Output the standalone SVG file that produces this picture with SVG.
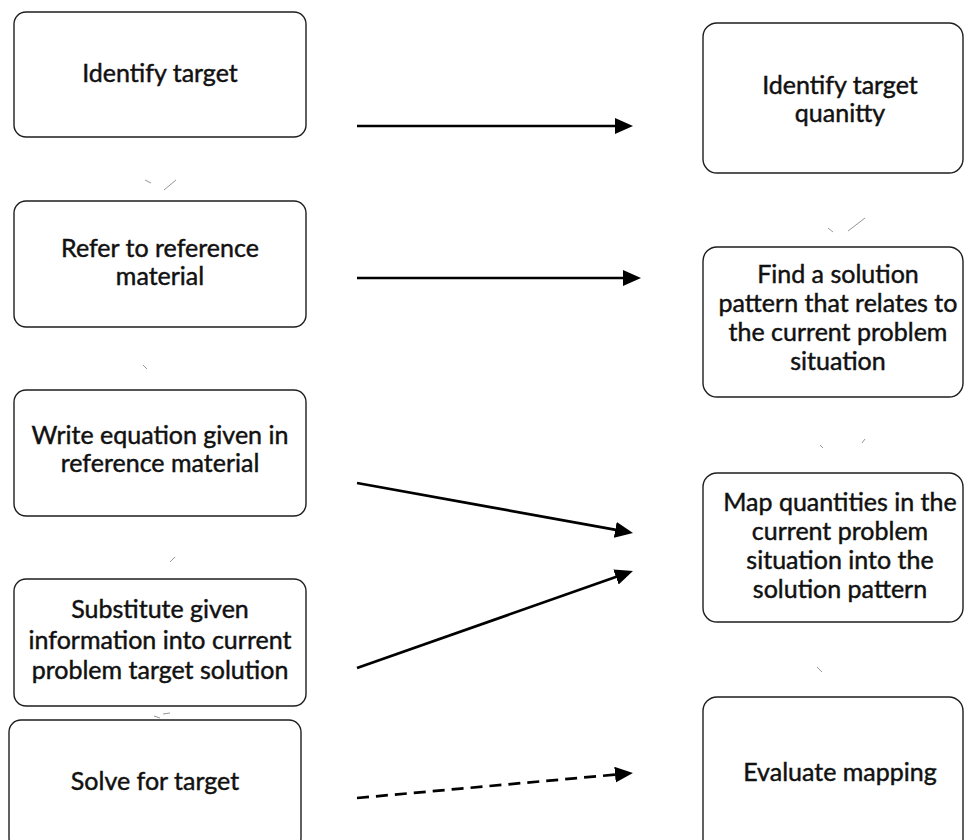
<svg xmlns="http://www.w3.org/2000/svg" width="966" height="840" viewBox="0 0 966 840">
<style>
  .box { fill: #ffffff; stroke: #1e1e1e; stroke-width: 1.4; }
  .lbl { font-family: Lato, "Open Sans", "Liberation Sans", sans-serif; font-size: 25px; fill: #111; stroke: #111; stroke-width: 0.45; text-anchor: middle; }
  .arr { fill: none; stroke: #000; stroke-width: 2.7; marker-end: url(#head); }
  .dash { stroke-dasharray: 12 7; }
  .mark { fill: none; stroke: #8a8a8a; stroke-width: 0.9; }
</style>
<defs>
  <marker id="head" markerUnits="userSpaceOnUse" markerWidth="18" markerHeight="16" refX="5" refY="8" orient="auto" viewBox="0 0 18 16">
    <path d="M0,0 L18,8 L0,16 z" fill="#000"/>
  </marker>
</defs>
<rect width="966" height="840" fill="#ffffff"/>

<g id="connectors">
  <line class="arr" x1="357" y1="126" x2="620" y2="126"/>
  <line class="arr" x1="357" y1="278" x2="628" y2="278"/>
  <line class="arr" x1="357" y1="483" x2="620.2" y2="530.7"/>
  <line class="arr" x1="357" y1="668" x2="620.7" y2="575.3"/>
  <line class="arr dash" x1="357" y1="798" x2="620" y2="774.2"/>
</g>

<g id="marks">
  <path class="mark" d="M145,180 L151,183 M164,190 L176,180"/>
  <path class="mark" d="M143,365 L147,369"/>
  <path class="mark" d="M170,562 L175,557"/>
  <path class="mark" d="M154,716 L160,718 M163,714 L170,713"/>
  <path class="mark" d="M828,228 L833,232 M848,231 L865,218"/>
  <path class="mark" d="M820,445 L823,448 M862,443 L865,439"/>
  <path class="mark" d="M817,667 L822,672"/>
</g>

<g id="n1">
  <rect class="box" x="14" y="12" width="292" height="125" rx="12"/>
  <text class="lbl" x="160" y="82">Identify target</text>
</g>
<g id="n2">
  <rect class="box" x="14" y="201" width="292" height="126" rx="12"/>
  <text class="lbl" x="160" y="257">Refer to reference</text>
  <text class="lbl" x="160" y="285">material</text>
</g>
<g id="n3">
  <rect class="box" x="14" y="390" width="292" height="126" rx="12"/>
  <text class="lbl" x="160" y="444">Write equation given in</text>
  <text class="lbl" x="160" y="472">reference material</text>
</g>
<g id="n4">
  <rect class="box" x="14" y="579" width="292" height="127" rx="12"/>
  <text class="lbl" x="160" y="618">Substitute given</text>
  <text class="lbl" x="160" y="649">information into current</text>
  <text class="lbl" x="160" y="679">problem target solution</text>
</g>
<g id="n5">
  <rect class="box" x="9" y="720" width="292" height="130" rx="12"/>
  <text class="lbl" x="155" y="790">Solve for target</text>
</g>

<g id="m1">
  <rect class="box" x="703" y="23" width="260" height="150" rx="14"/>
  <text class="lbl" x="840" y="94">Identify target</text>
  <text class="lbl" x="840" y="122">quanitty</text>
</g>
<g id="m2">
  <rect class="box" x="703" y="247" width="260" height="150" rx="14"/>
  <text class="lbl" x="838" y="283">Find a solution</text>
  <text class="lbl" x="838" y="312">pattern that relates to</text>
  <text class="lbl" x="838" y="341">the current problem</text>
  <text class="lbl" x="838" y="370">situation</text>
</g>
<g id="m3">
  <rect class="box" x="703" y="473" width="260" height="149" rx="14"/>
  <text class="lbl" x="840" y="511">Map quantities in the</text>
  <text class="lbl" x="840" y="540">current problem</text>
  <text class="lbl" x="840" y="569">situation into the</text>
  <text class="lbl" x="840" y="598">solution pattern</text>
</g>
<g id="m4">
  <rect class="box" x="703" y="697" width="260" height="160" rx="14"/>
  <text class="lbl" x="840" y="781">Evaluate mapping</text>
</g>
</svg>
